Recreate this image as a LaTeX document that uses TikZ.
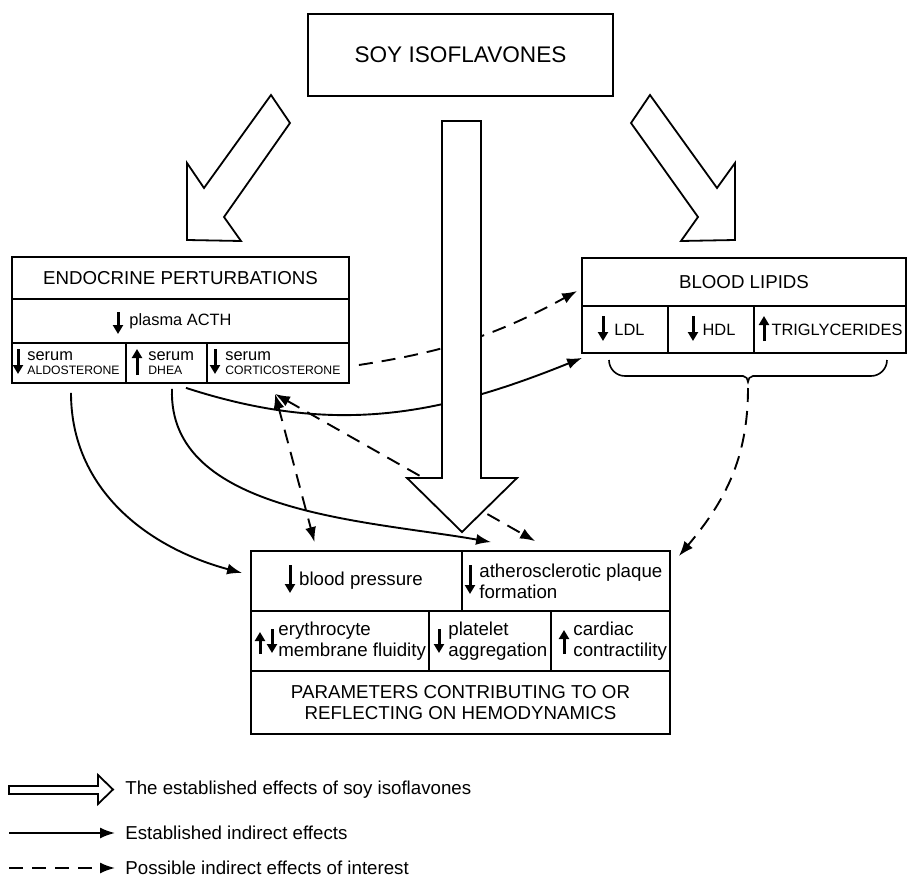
\documentclass[tikz,border=0pt]{standalone}
\usepackage{fontspec}
\setmainfont{Liberation Sans}
\usetikzlibrary{arrows.meta}

\newcommand{\szbig}{\fontsize{11.3}{13.5}\selectfont}
\newcommand{\szmain}{\fontsize{9.35}{10.5}\selectfont}
\newcommand{\szmid}{\fontsize{8.2}{9.5}\selectfont}
\newcommand{\sztiny}{\fontsize{6.1}{7}\selectfont}

\begin{document}
\begin{tikzpicture}[x=0.5pt,y=0.5pt,>={Latex[length=7.5pt,width=5.5pt]},
    cell/.style 2 args={draw,line width=0.9pt,minimum width=#1,minimum height=#2,inner sep=0pt},
    txt/.style={anchor=west,inner sep=0pt,align=left},
    hollow/.style={draw,line width=0.9pt,fill=white},
    effect/.style={line width=0.95pt,->},
    maybe/.style={effect,dash pattern=on 7pt off 4.5pt},
    lvl/.style={line width=1.5pt,-{Triangle[length=4.5pt,width=5pt]}}]
    \tikzstyle{every node}=[font=\szmain]
    \useasboundingbox (0,0) rectangle (907,-878);

    % source
    \node[cell={152.5pt}{41pt},font=\szbig] (soy) at (460.5,-55) {SOY ISOFLAVONES};

    % endocrine table
    \node[cell={168.5pt}{21pt}] (endo) at (180.5,-278) {ENDOCRINE PERTURBATIONS};
    \node[cell={168.5pt}{22pt},font=\szmid] (acth) at (180.5,-321) {plasma ACTH};
    \node[cell={57pt}{20pt}] (aldo) at (69,-363) {};
    \node[cell={40.5pt}{20pt}] (dhea) at (166.5,-363) {};
    \node[cell={71pt}{20pt}] (cort) at (278,-363) {};
    \node[txt,font=\sztiny] (aldo-t) at (27,-363) {{\szmid serum}\\ALDOSTERONE};
    \node[txt,font=\sztiny] (dhea-t) at (148,-363) {{\szmid serum}\\DHEA};
    \node[txt,font=\sztiny] (cort-t) at (225,-363) {{\szmid serum}\\CORTICOSTERONE};
    \draw[lvl] (118,-312) -- (118,-334);
    \draw[lvl] (18,-349) -- (18,-374);
    \draw[lvl] (137,-375) -- (137,-349);
    \draw[lvl] (215,-349) -- (215,-374);

    % lipids table
    \node[cell={162pt}{24pt}] (lipids) at (744,-282) {BLOOD LIPIDS};
    \node[cell={43pt}{23.5pt},font=\szmid] (ldl) at (625,-329.5) {\hspace*{4.5pt}LDL};
    \node[cell={43pt}{23.5pt},font=\szmid] (hdl) at (711,-329.5) {\hspace*{8pt}HDL};
    \node[cell={76pt}{23.5pt},font=\szmid] (tg) at (830,-329.5) {\hspace*{7pt}TRIGLYCERIDES};
    \draw[lvl] (603,-316) -- (603,-341);
    \draw[lvl] (693,-316) -- (693,-341);
    \draw[lvl] (764,-341) -- (764,-316);
    \draw[line width=0.8pt] (609,-360) to[out=-90,in=180] (625,-376) -- (743,-376)
      to[out=0,in=90] (748,-382) to[out=90,in=180] (753,-376) -- (871,-376)
      to[out=0,in=-90] (887,-360);
    \coordinate (lip-brace) at (748,-388);

    % hemodynamics table
    \node[cell={105.5pt}{30pt}] (bp) at (356.5,-581) {\hspace*{4.5pt}blood pressure};
    \node[cell={104pt}{30pt}] (ath) at (566,-581) {};
    \node[cell={89pt}{30pt}] (ery) at (340,-641) {};
    \node[cell={61pt}{30pt}] (plt) at (490,-641) {};
    \node[cell={59.5pt}{30pt}] (card) at (610.5,-641) {};
    \node[cell={209.5pt}{31.5pt},align=center] (param) at (460.5,-702.5)
      {PARAMETERS CONTRIBUTING TO OR\\REFLECTING ON HEMODYNAMICS};
    \node[txt] (ath-t) at (479,-581) {atherosclerotic plaque\\formation};
    \node[txt] (ery-t) at (278,-641) {erythrocyte\\membrane fluidity};
    \node[txt] (plt-t) at (448,-641) {platelet\\aggregation};
    \node[txt] (card-t) at (573,-641) {cardiac\\contractility};
    \draw[lvl] (290,-565) -- (290,-593);
    \draw[lvl] (470,-565) -- (470,-594);
    \draw[lvl] (260,-654) -- (260,-632);
    \draw[lvl] (272,-629) -- (272,-653);
    \draw[lvl] (439,-629) -- (439,-653);
    \draw[lvl] (564,-654) -- (564,-630);

    % indirect effects
    \draw[effect] ([xshift=1pt,yshift=-4.5pt]aldo.south) to[out=-90,in=165] ([xshift=-4pt,yshift=4pt]bp.west);
    \draw[effect] ([xshift=2.75pt,yshift=-2.5pt]dhea.south) to[out=-92,in=170,looseness=0.9] ([xshift=15pt,yshift=4pt]ath.north west);
    \draw[effect] ([xshift=9.75pt,yshift=-2pt]dhea.south) to[out=-18,in=-158] ([xshift=0.5pt,yshift=-2pt]ldl.south west);
    \draw[maybe] ([xshift=4.5pt,yshift=-1pt]cort.east) to[bend right=10] ([xshift=-2pt,yshift=-4.5pt]lipids.west);
    \draw[maybe,<->] ([xshift=-1.5pt,yshift=-5pt]cort.south) -- ([xshift=-21pt,yshift=4pt]bp.north);
    \draw[maybe,<->] ([xshift=-1.5pt,yshift=-5pt]cort.south) -- ([xshift=37pt,yshift=4.5pt]ath.north west);
    \draw[maybe] (lip-brace) to[out=-90,in=50] ([xshift=4pt,yshift=-3pt]ath.north east);

    % established effects
    \draw[hollow] (271,-95) -- (290,-123) -- (224,-217) -- (241,-241) -- (187,-240) -- (187,-163) -- (204,-188) -- cycle;
    \draw[hollow] (650,-95) -- (631,-123) -- (698,-217) -- (681,-241) -- (735,-240) -- (735,-163) -- (717,-188) -- cycle;
    \draw[hollow] (442,-121) -- (481,-121) -- (481,-478) -- (517,-478) -- (462,-532) -- (407,-478) -- (442,-478) -- cycle;

    % legend
    \draw[hollow] (9,-786) -- (98,-786) -- (98,-775) -- (113,-789.5) -- (98,-804) -- (98,-794) -- (9,-794) -- cycle;
    \node[txt] (leg1) at (125,-790) {The established effects of soy isoflavones};
    \node[txt] (leg2) at (125,-833) {Established indirect effects};
    \node[txt] (leg3) at (125,-868) {Possible indirect effects of interest};
    \coordinate (leg2-start) at (9,-833);
    \coordinate (leg3-start) at (9,-868);
    \draw[effect] (leg2-start) -- ([xshift=-5pt]leg2.west);
    \draw[maybe] (leg3-start) -- ([xshift=-5pt]leg3.west);
\end{tikzpicture}
\end{document}
